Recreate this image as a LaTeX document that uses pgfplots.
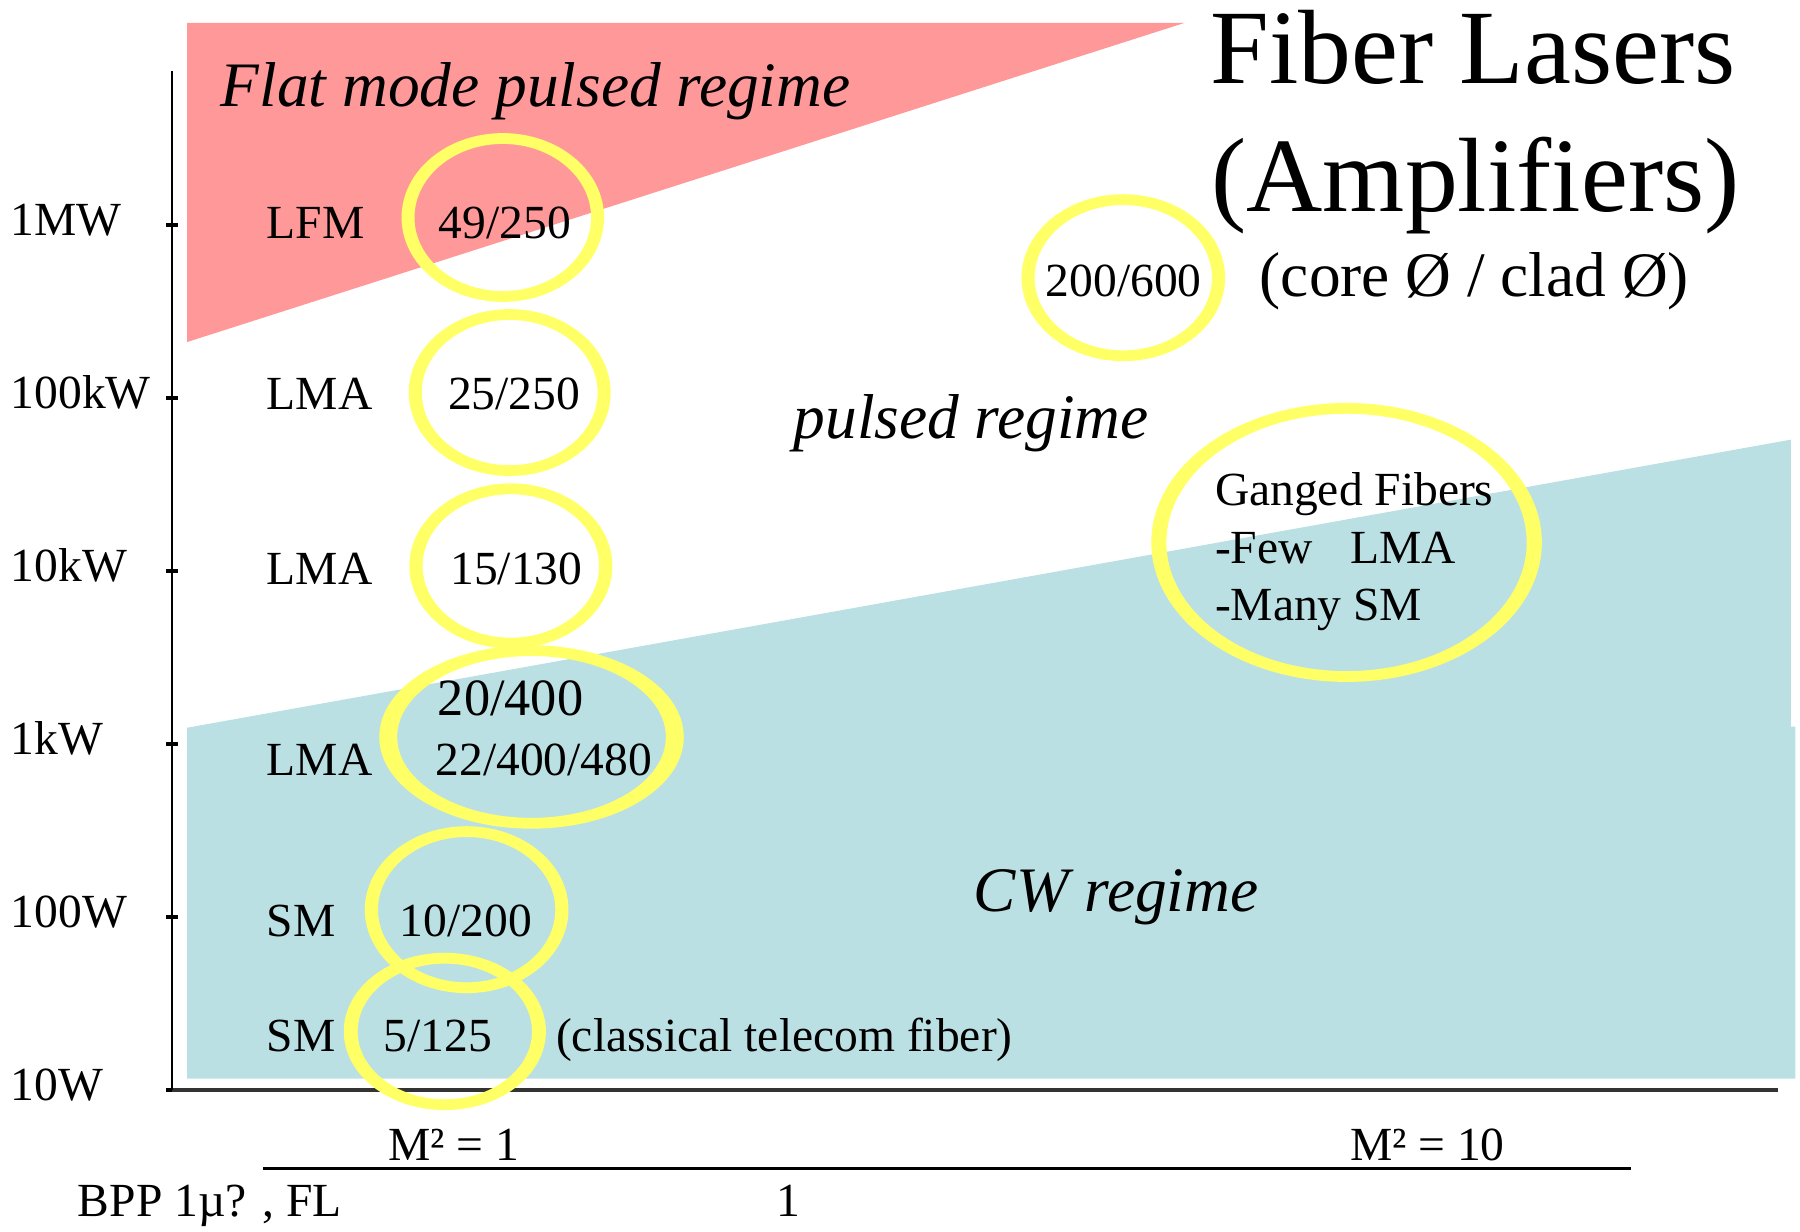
\documentclass[border=0pt]{standalone}
\usepackage{fontspec}
\setmainfont{Liberation Serif}
\usepackage{pgfplots}
\pgfplotsset{compat=1.18}

\definecolor{flatpink}{RGB}{255,153,153}
\definecolor{cwcyan}{RGB}{187,224,227}
\definecolor{ringyellow}{RGB}{255,255,102}
\definecolor{axisgray}{RGB}{51,51,51}

\newcommand\lbl{\fontsize{20.7pt}{24pt}\selectfont}
\newcommand\midsz{\fontsize{27.6pt}{32pt}\selectfont}
\newcommand\regime{\fontsize{27.6pt}{32pt}\selectfont\itshape}
\newcommand\ttl{\fontsize{46pt}{52pt}\selectfont}

% ring mark: a circle of radius \ringry (pt), stretched sideways by \ringsx
\pgfdeclareplotmark{ring}{%
  \pgfscope
  \pgflowlevelsynccm
  \pgflowlevel{\pgftransformxscale{\ringsx}}%
  \pgfpathcircle{\pgfpointorigin}{\ringry pt}%
  \pgfusepathqstroke
  \endpgfscope}

\tikzset{
  lab/.style={inner sep=0pt, anchor=base west, font=\lbl},
}

\begin{document}
\begin{tikzpicture}
\begin{axis}[
  at={(0,0)}, anchor=south west,
  scale only axis, width=699.5pt, height=443.75pt,
  set layers,
  xmin=150, xmax=1549,
  ymode=log, ymin=10, ymax=7.74e6,
  clip=false,
  axis lines=left,
  axis line style={-},
  x axis line style={draw=axisgray, line width=1.7pt},
  y axis line style={draw=black, line width=0.8pt},
  ytick={10,100,1000,10000,100000,1000000},
  yticklabels={10W,100W,1kW,10kW,100kW,1MW},
  yminorticks=false,
  tick align=center,
  major tick length=5pt,
  ytick style={draw=black, line width=1.6pt},
  yticklabel style={anchor=base west, inner sep=0pt, xshift=-68pt, yshift=-4.75pt, font=\lbl},
  xtick={395,1243.5},
  xticklabels={M² = 1, M² = 10},
  xtick style={draw=none},
  xticklabel style={anchor=base, inner sep=0pt, yshift=-28pt, font=\lbl},
]

% flat mode pulsed regime
\addplot[draw=none, fill=flatpink] coordinates {
  (163,1.472e7) (1032,1.472e7) (163,2.104e5)};

% CW regime
\addplot[draw=none, fill=cwcyan] coordinates {
  (163,11.65) (163,1241) (1560,5.74e4) (1560,1259) (1564,1259) (1564,11.65)};

% fiber rings: centre, vertical radius (pt), horizontal stretch
\addplot[scatter, only marks, mark=ring, line width=4.7pt,
  scatter/use mapped color={draw=ringyellow, fill=ringyellow},
  visualization depends on={value \thisrow{ry}\as\ringry},
  visualization depends on={value \thisrow{sx}\as\ringsx}]
  table[x=x, y=y] {
  x      y         ry    sx
  438    1.104e6   34.4  1.20
  444    1.074e5   34.0  1.21
  445    1.069e4   33.6  1.23
  463    1098      37.6  1.66
  406.5  110.2     34.0  1.22
  387.5  21.8      31.9  1.285
  978.5  4.955e5   34.0  1.22
  1173   1.462e4   58.4  1.40
};

% regime names
\node[inner sep=0pt, anchor=base west, font=\regime] at (axis cs:192,4.82e6) {Flat mode pulsed regime};
\node[inner sep=0pt, anchor=base west, font=\regime] at (axis cs:691,5.83e4) {pulsed regime};
\node[inner sep=0pt, anchor=base west, font=\regime] at (axis cs:848,107.7) {CW regime};

% title
\node[inner sep=0pt, anchor=base west, font=\ttl] at (axis cs:1054,6.59e6) {Fiber Lasers};
\node[inner sep=0pt, anchor=base west, font=\ttl] at (axis cs:1055,1.194e6) {(Amplifiers)};
\node[inner sep=0pt, anchor=base west, font=\midsz] at (axis cs:1097,3.855e5) {(core Ø / clad Ø)};

% fiber types
\node[lab] at (axis cs:232,8.38e5) {LFM};
\node[lab] at (axis cs:232,8.55e4) {LMA};
\node[lab] at (axis cs:232,8375) {LMA};
\node[lab] at (axis cs:232,653) {LMA};
\node[lab] at (axis cs:232,76.9) {SM};
\node[lab] at (axis cs:232,16.7) {SM};

% core / clad diameters
\node[lab] at (axis cs:382,8.38e5) {49/250};
\node[lab] at (axis cs:390,8.55e4) {25/250};
\node[lab] at (axis cs:392,8375) {15/130};
\node[inner sep=0pt, anchor=base west, font=\fontsize{22.8pt}{26pt}\selectfont] at (axis cs:381,1469) {20/400};
\node[lab] at (axis cs:379,653) {22/400/480};
\node[lab] at (axis cs:348,76.9) {10/200};
\node[lab] at (axis cs:334,16.7) {5/125};
\node[lab] at (axis cs:484,16.7) {(classical telecom fiber)};
\node[inner sep=0pt, anchor=base, font=\lbl] at (axis cs:979,3.855e5) {200/600};

% ganged fibers
\node[lab] at (axis cs:1058,2.404e4) {Ganged Fibers};
\node[lab] at (axis cs:1058,1.109e4) {-Few};
\node[lab] at (axis cs:1176,1.109e4) {LMA};
\node[lab] at (axis cs:1058,5164) {-Many SM};

% beam parameter product row
\draw[line width=1pt] (axis cs:229,3.513) -- (axis cs:1421,3.513);
\node[lab] at (axis cs:67.5,1.854) {BPP 1µ? , FL};
\node[lab] at (axis cs:676,1.854) {1};
\end{axis}
\pgfresetboundingbox
\path[use as bounding box] (-75pt,-61.75pt) rectangle (709pt,474.75pt);
\end{tikzpicture}
\end{document}
